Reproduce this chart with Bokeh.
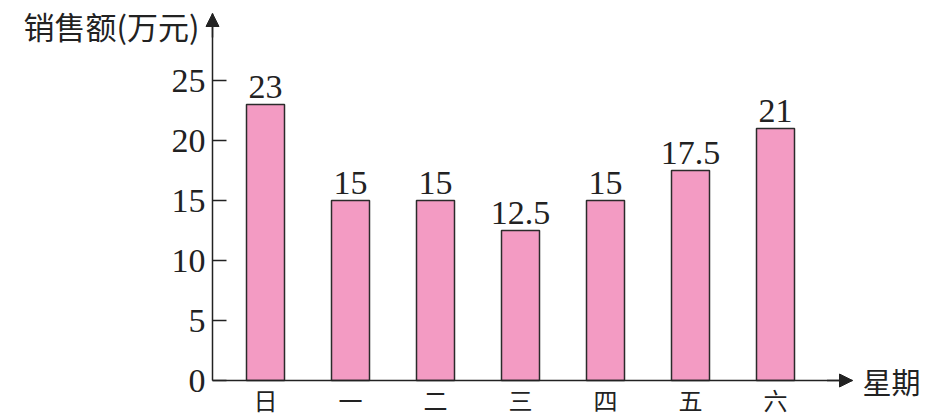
from bokeh.plotting import figure
from bokeh.models import ColumnDataSource, FixedTicker, Label, Arrow, NormalHead, Range1d
from bokeh.core.properties import value
from bokeh.embed import file_html
from bokeh.resources import INLINE

days = ["日", "一", "二", "三", "四", "五", "六"]
sales = [23, 15, 15, 12.5, 15, 17.5, 21]
sales_text = ["23", "15", "15", "12.5", "15", "17.5", "21"]
y_ticks = [0, 5, 10, 15, 20, 25]
y_title = "销售额(万元)"
x_title = "星期"

xs = list(range(len(days)))
src = ColumnDataSource(dict(x=xs, y=sales, t=sales_text))

# frame covers the whole figure; axes are pinned inside it
XPX, YPX = 85.0, 12.0
xr = Range1d(-265 / XPX, 661 / XPX)
yr = Range1d(-35 / YPX, 380 / YPX)
x_axis_at = -53 / XPX
y_top = 367 / YPX
x_end = 587 / XPX

p = figure(width=926, height=415, output_backend="svg", toolbar_location=None,
           x_range=xr, y_range=yr,
           min_border_left=0, min_border_right=0, min_border_top=0, min_border_bottom=0)
p.outline_line_color = None
p.xgrid.visible = False
p.ygrid.visible = False
p.background_fill_color = "white"
p.border_fill_color = "white"

p.vbar(x="x", top="y", width=38 / XPX, source=src, fill_color="#F39BC3",
       line_color="#2b2b2b", line_width=1.5)
p.text(x="x", y="y", text="t", source=src, text_align="center", text_baseline="bottom",
       y_offset=-7, text_font=value("Liberation Serif"), text_font_size="34px", text_color="#222222")

ax = p.yaxis[0]
ax.fixed_location = x_axis_at
ax.bounds = (0, y_top)
ax.ticker = FixedTicker(ticks=y_ticks)
ax.major_tick_in = 14
ax.major_tick_out = 0
ax.minor_tick_line_color = None
ax.axis_line_width = 1.5
ax.axis_line_color = "#222222"
ax.major_tick_line_color = "#222222"
ax.major_tick_line_width = 1.5
ax.major_label_text_font = "Liberation Serif"
ax.major_label_text_font_size = "34px"
ax.major_label_text_color = "#222222"
ax.major_label_standoff = 7

bx = p.xaxis[0]
bx.fixed_location = 0
bx.bounds = (x_axis_at, x_end)
bx.ticker = FixedTicker(ticks=xs)
bx.major_label_overrides = {i: d for i, d in zip(xs, days)}
bx.major_tick_in = 0
bx.major_tick_out = 0
bx.minor_tick_line_color = None
bx.axis_line_width = 1.5
bx.axis_line_color = "#222222"
bx.major_label_text_font = "Noto Sans CJK SC"
bx.major_label_text_font_size = "24px"
bx.major_label_text_color = "#222222"
bx.major_label_standoff = 1

p.add_layout(Arrow(end=NormalHead(size=13, fill_color="#222222", line_color="#222222"),
                   x_start=x_axis_at, y_start=y_top - 2, x_end=x_axis_at, y_end=y_top,
                   line_color="#222222", line_width=1.5))
p.add_layout(Arrow(end=NormalHead(size=13, fill_color="#222222", line_color="#222222"),
                   x_start=x_end - 0.3, y_start=0, x_end=x_end, y_end=0,
                   line_color="#222222", line_width=1.5))

p.add_layout(Label(x=-66 / XPX, y=355 / YPX, text=y_title, text_align="right", text_baseline="middle",
                   text_font="Noto Sans CJK SC", text_font_size="31px", text_color="#222222"))
p.add_layout(Label(x=597 / XPX, y=0, text=x_title, text_align="left", text_baseline="middle",
                   text_font="Noto Sans CJK SC", text_font_size="29px", text_color="#222222"))

open("out.html", "w").write(file_html(p, INLINE))
